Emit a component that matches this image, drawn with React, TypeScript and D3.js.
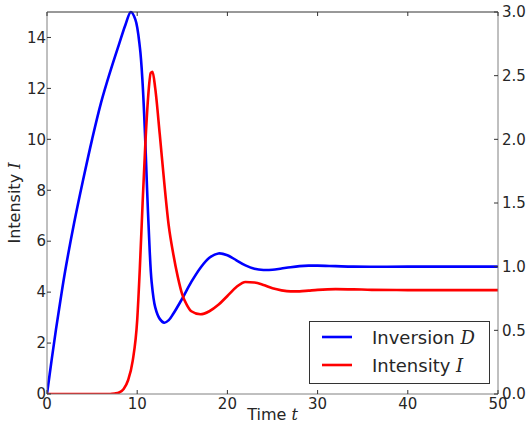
import React from "react";
import * as d3 from "d3";

// sampled from the reference plot
const timeD = [0, 0.5, 1, 1.5, 2, 3, 4, 5, 6, 7, 8, 8.7, 9.3, 9.8, 10.3, 10.6, 10.9, 11.1, 11.3, 11.6, 12, 12.5, 13, 13.5, 14, 15, 16, 17, 18, 19, 20, 21, 22, 23, 24, 25, 26, 27, 28, 29, 30, 32, 34, 40, 50];
const inversion = [0, 0.26, 0.51, 0.74, 0.96, 1.34, 1.68, 2.0, 2.29, 2.53, 2.75, 2.9, 3.0, 2.94, 2.72, 2.44, 1.98, 1.6, 1.26, 0.88, 0.68, 0.59, 0.56, 0.58, 0.63, 0.75, 0.88, 0.99, 1.07, 1.104, 1.09, 1.05, 1.01, 0.984, 0.974, 0.976, 0.986, 0.996, 1.004, 1.008, 1.008, 1.004, 1.0, 1.0, 1.0];

const timeI = [0, 5, 7, 7.5, 8, 8.5, 9, 9.5, 10, 10.3, 10.6, 10.9, 11.2, 11.5, 11.7, 12, 12.5, 13, 13.5, 14, 14.5, 15, 15.5, 16, 17, 18, 19, 20, 21, 22, 23, 24, 25, 26, 27, 28, 29, 30, 32, 34, 36, 40, 50];
const intensity = [0, 0, 0, 0.02, 0.06, 0.2, 0.55, 1.3, 2.9, 5.0, 7.5, 9.8, 11.6, 12.6, 12.65, 12.0, 10.2, 8.3, 6.6, 5.5, 4.6, 3.9, 3.5, 3.25, 3.13, 3.25, 3.5, 3.85, 4.2, 4.4, 4.38, 4.28, 4.15, 4.07, 4.03, 4.03, 4.06, 4.09, 4.12, 4.11, 4.09, 4.08, 4.08];

const xTicks = [0, 10, 20, 30, 40, 50];
const leftTicks = [0, 2, 4, 6, 8, 10, 12, 14];
const rightTicks = [0, 0.5, 1.0, 1.5, 2.0, 2.5, 3.0];

const W = 529, H = 425;
const L = 47, R = 498, T = 12, B = 394;
const font = "'DejaVu Sans', sans-serif";
const mathFont = "'DejaVu Serif', serif";

export default function App() {
  const x = d3.scaleLinear().domain([0, 50]).range([L, R]);
  const yL = d3.scaleLinear().domain([0, 15]).range([B, T]);
  const yR = d3.scaleLinear().domain([0, 3]).range([B, T]);

  const lineD = d3.line<number>()
    .x((d, i) => x(timeD[i]))
    .y(d => yR(d))
    .curve(d3.curveCatmullRom.alpha(0.5));
  const lineI = d3.line<number>()
    .x((d, i) => x(timeI[i]))
    .y(d => yL(d))
    .curve(d3.curveMonotoneX);

  const gray = "#808080";
  const txt = "#262626";

  return (
    <div style={{ position: "absolute", left: 0, top: 0 }}>
      <svg width={W} height={H} style={{ display: "block" }} fontFamily={font}>
        <rect width={W} height={H} fill="#fff" />
        <defs>
          <clipPath id="plot">
            <rect x={L} y={T - 2} width={R - L} height={B - T + 2} />
          </clipPath>
        </defs>
        <g clipPath="url(#plot)" fill="none" strokeWidth={2.6} strokeLinejoin="round">
          <path d={lineD(inversion) || ""} stroke="#0000ff" />
          <path d={lineI(intensity) || ""} stroke="#ff0000" />
        </g>

        {/* spines */}
        <line x1={L} x2={R} y1={T} y2={T} stroke="#333" />
        <line x1={L} x2={R} y1={B} y2={B} stroke={gray} />
        <line x1={L} x2={L} y1={T} y2={B} stroke={gray} />
        <line x1={R} x2={R} y1={T} y2={B} stroke={gray} />

        {/* x ticks */}
        {xTicks.map(t => (
          <g key={"x" + t}>
            <line x1={x(t)} x2={x(t)} y1={B} y2={B - 4} stroke="#333" />
            <line x1={x(t)} x2={x(t)} y1={T} y2={T + 4} stroke="#333" />
            <text x={x(t)} y={B + 15} fontSize={15} textAnchor="middle" fill={txt}>{t}</text>
          </g>
        ))}
        {/* left ticks */}
        {leftTicks.map(t => (
          <g key={"l" + t}>
            <line x1={L} x2={L + 4} y1={yL(t)} y2={yL(t)} stroke="#333" />
            <text x={L - 1} y={yL(t)} dy="0.35em" fontSize={15} textAnchor="end" fill={txt}>{t}</text>
          </g>
        ))}
        {/* right ticks */}
        {rightTicks.map(t => (
          <g key={"r" + t}>
            <line x1={R} x2={R - 4} y1={yR(t)} y2={yR(t)} stroke="#333" />
            <text x={R + 4} y={yR(t)} dy="0.35em" fontSize={15} textAnchor="start" fill={txt}>{t.toFixed(1)}</text>
          </g>
        ))}

        {/* axis labels */}
        <text x={(L + R) / 2} y={H - 5} fontSize={16} textAnchor="middle" fill={txt}>
          Time <tspan fontFamily={mathFont} fontStyle="italic">t</tspan>
        </text>
        <text transform={`translate(20,${(T + B) / 2}) rotate(-90)`} fontSize={16} textAnchor="middle" fill={txt}>
          Intensity <tspan fontFamily={mathFont} fontStyle="italic">I</tspan>
        </text>

        {/* legend */}
        <g>
          <rect x={309.5} y={321.5} width={180} height={62} fill="#fff" stroke="#333" />
          <line x1={322} x2={352} y1={337} y2={337} stroke="#0000ff" strokeWidth={2.6} />
          <line x1={322} x2={352} y1={365} y2={365} stroke="#ff0000" strokeWidth={2.6} />
          <text x={372} y={343.5} fontSize={18} fill={txt}>
            Inversion <tspan fontFamily={mathFont} fontStyle="italic">D</tspan>
          </text>
          <text x={372} y={371.5} fontSize={18} fill={txt}>
            Intensity <tspan fontFamily={mathFont} fontStyle="italic">I</tspan>
          </text>
        </g>
      </svg>
    </div>
  );
}
